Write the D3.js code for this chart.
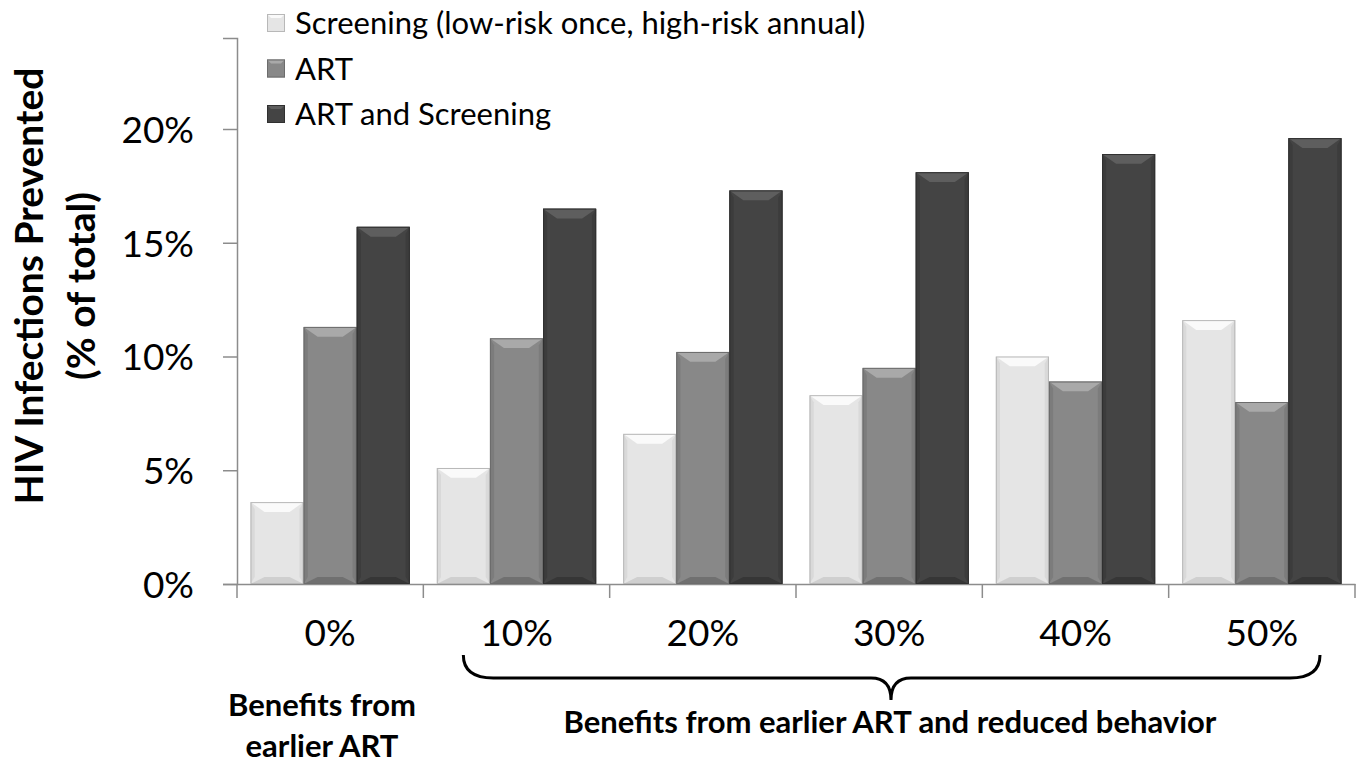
<!DOCTYPE html>
<html><head><meta charset="utf-8">
<script src="https://cdn.jsdelivr.net/npm/d3@7"></script>
<style>body{margin:0;background:#fff}svg{display:block}</style>
</head><body>
<svg id="c" width="1363" height="766"></svg>
<script>
const categories = ["0%","10%","20%","30%","40%","50%"];
const seriesNames = ["Screening (low-risk once, high-risk annual)","ART","ART and Screening"];
const screening = [3.6, 5.1, 6.6, 8.3, 10.0, 11.6];
const art = [11.3, 10.8, 10.2, 9.5, 8.9, 8.0];
const artScreening = [15.7, 16.5, 17.3, 18.1, 18.9, 19.6];
const yTicks = [0, 5, 10, 15, 20];

(function(){
const fills = [
  {body:"#e5e5e5", top:"#fafafa", bottom:"#cfcfcf", side:"#d9d9d9", edge:"#b8b8b8"},
  {body:"#888888", top:"#a9a9a9", bottom:"#707070", side:"#7c7c7c", edge:"#6c6c6c"},
  {body:"#444444", top:"#5e5e5e", bottom:"#363636", side:"#3c3c3c", edge:"#303030"}
];
const seriesData = [screening, art, artScreening];

const svg = d3.select("#c");
const font = "Lato, 'Open Sans', sans-serif";
const mLeft = 237, mRight = 1355, mTop = 38, mBottom = 584;

const x = d3.scaleBand().domain(categories).range([mLeft, mRight]).paddingInner(0.145).paddingOuter(0.0725);
const xOuter = d3.scaleBand().domain(categories).range([mLeft, mRight]);
const xs = d3.scaleBand().domain([0,1,2]).range([0, x.bandwidth()]);
const y = d3.scaleLinear().domain([0, 24]).range([mBottom, mTop]);

const ya = svg.append("g").attr("transform", `translate(${mLeft},0)`)
  .call(d3.axisLeft(y).tickValues(yTicks).tickSize(14).tickFormat(d => d + "%"));
ya.select(".domain").attr("stroke", "#8c8c8c").attr("stroke-width", 1.5);
ya.selectAll(".tick line").attr("stroke", "#8c8c8c").attr("stroke-width", 1.5);
ya.selectAll(".tick text").attr("font-family", font).attr("font-size", 37).attr("fill", "#000").attr("x", -43).attr("dy", "0.36em");

const xa = svg.append("g").attr("transform", `translate(0,${mBottom})`)
  .call(d3.axisBottom(xOuter).tickSize(0).tickFormat(d => d));
xa.select(".domain").attr("stroke", "#8c8c8c").attr("stroke-width", 1.5);
xa.selectAll(".tick text").attr("font-family", font).attr("font-size", 37).attr("fill", "#000").attr("y", 62).attr("dy", 0);
const bounds = categories.map(c => xOuter(c)).concat([xOuter(categories[5]) + xOuter.bandwidth()]);
svg.append("g").selectAll("line").data(bounds).join("line")
  .attr("x1", d => d).attr("x2", d => d).attr("y1", mBottom).attr("y2", mBottom + 14)
  .attr("stroke", "#8c8c8c").attr("stroke-width", 1.5);

const bw = xs.bandwidth();
const bev = 7;
seriesData.forEach((vals, si) => {
  const f = fills[si];
  const g = svg.append("g");
  vals.forEach((v, i) => {
    const x0 = x(categories[i]) + xs(si), x1 = x0 + bw;
    const y0 = y(v), y1 = y(0);
    g.append("rect").attr("x", x0).attr("y", y0).attr("width", bw).attr("height", y1 - y0).attr("fill", f.body);
    g.append("polygon").attr("points", [[x0,y0],[x0+bev*0.6,y0+bev],[x0+bev*0.6,y1-bev],[x0,y1]].join(" ")).attr("fill", f.side);
    g.append("polygon").attr("points", [[x1,y0],[x1-bev*0.6,y0+bev],[x1-bev*0.6,y1-bev],[x1,y1]].join(" ")).attr("fill", f.side);
    g.append("polygon").attr("points", [[x0,y0],[x1,y0],[x1-bev*2,y0+bev*1.4],[x0+bev*2,y0+bev*1.4]].join(" ")).attr("fill", f.top);
    g.append("polygon").attr("points", [[x0,y1],[x1,y1],[x1-bev*2,y1-bev],[x0+bev*2,y1-bev]].join(" ")).attr("fill", f.bottom);
    g.append("rect").attr("x", x0+0.5).attr("y", y0+0.5).attr("width", bw-1).attr("height", y1 - y0 - 1)
      .attr("fill", "none").attr("stroke", f.edge).attr("stroke-width", 1);
  });
});

const lg = svg.append("g");
seriesNames.forEach((n, i) => {
  const cy = 23 + i * 45.5;
  const f = fills[i];
  const sx = 267, s = 18, sy = cy - s/2;
  lg.append("rect").attr("x", sx).attr("y", sy).attr("width", s).attr("height", s).attr("fill", f.body);
  lg.append("polygon").attr("points", [[sx,sy],[sx+s,sy],[sx+s-4,sy+4],[sx+4,sy+4]].join(" ")).attr("fill", f.top);
  lg.append("rect").attr("x", sx+0.5).attr("y", sy+0.5).attr("width", s-1).attr("height", s-1).attr("fill","none").attr("stroke", f.edge);
  lg.append("text").attr("x", 295).attr("y", cy).attr("dy", "0.36em")
    .attr("font-family", font).attr("font-size", 31).attr("fill", "#000").text(n);
});

const yt = svg.append("text").attr("transform", "translate(0,286) rotate(-90)")
  .attr("text-anchor", "middle").attr("font-family", font).attr("font-weight", "bold").attr("font-size", 39).attr("fill", "#000");
yt.append("tspan").attr("x", 0).attr("y", 43).text("HIV Infections Prevented");
yt.append("tspan").attr("x", 0).attr("y", 95).text("(% of total)");

const ann = svg.append("text").attr("text-anchor", "middle").attr("font-family", font).attr("font-weight", "bold").attr("font-size", 31).attr("fill", "#000");
ann.append("tspan").attr("x", 322).attr("y", 716).text("Benefits from");
ann.append("tspan").attr("x", 322).attr("y", 757).text("earlier ART");
svg.append("text").attr("x", 890).attr("y", 733).attr("text-anchor", "middle").attr("font-family", font)
  .attr("font-weight", "bold").attr("font-size", 31).attr("fill", "#000").text("Benefits from earlier ART and reduced behavior");

const bx0 = xOuter(categories[1]) + 40, bx1 = xOuter(categories[5]) + xOuter.bandwidth() - 35;
const bm = 891, by0 = 655, by1 = 678, by2 = 700, r = 20;
const p = d3.path();
p.moveTo(bx0, by0);
p.quadraticCurveTo(bx0, by1, bx0 + r*1.5, by1);
p.lineTo(bm - r, by1);
p.quadraticCurveTo(bm, by1, bm, by2);
p.quadraticCurveTo(bm, by1, bm + r, by1);
p.lineTo(bx1 - r*1.5, by1);
p.quadraticCurveTo(bx1, by1, bx1, by0);
svg.append("path").attr("d", p.toString()).attr("fill", "none").attr("stroke", "#000").attr("stroke-width", 3);
})();
</script>
</body></html>
